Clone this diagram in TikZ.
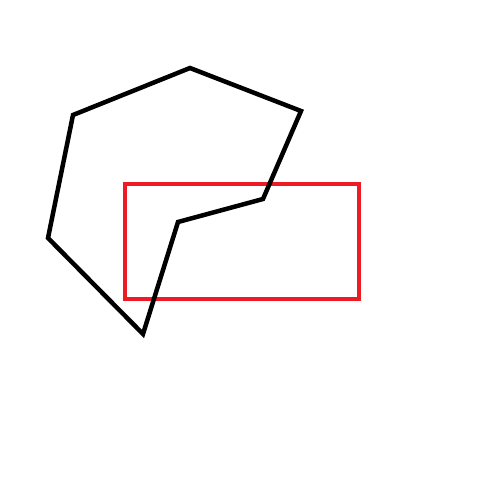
\documentclass[tikz,border=0pt]{standalone}
\usetikzlibrary{positioning}

\definecolor{paintred}{RGB}{237,28,36}

\begin{document}
\begin{tikzpicture}[
    x=1pt, y=-1pt,
    outline/.style={draw=black, line width=4.5pt},
    frame/.style={draw=paintred, line width=4.5pt},
]

% ---- canvas ----
\useasboundingbox (0,0) rectangle (495,500);

% ---- red rectangle (under the polygon) ----
\draw[frame] (125,184) rectangle (359,299);

% ---- black polygon ----
\draw[outline] (190,68) -- (301,111) -- (263,199) -- (178,222)
    -- (143,334) -- (48,238) -- (73,115) -- cycle;

\end{tikzpicture}
\end{document}
